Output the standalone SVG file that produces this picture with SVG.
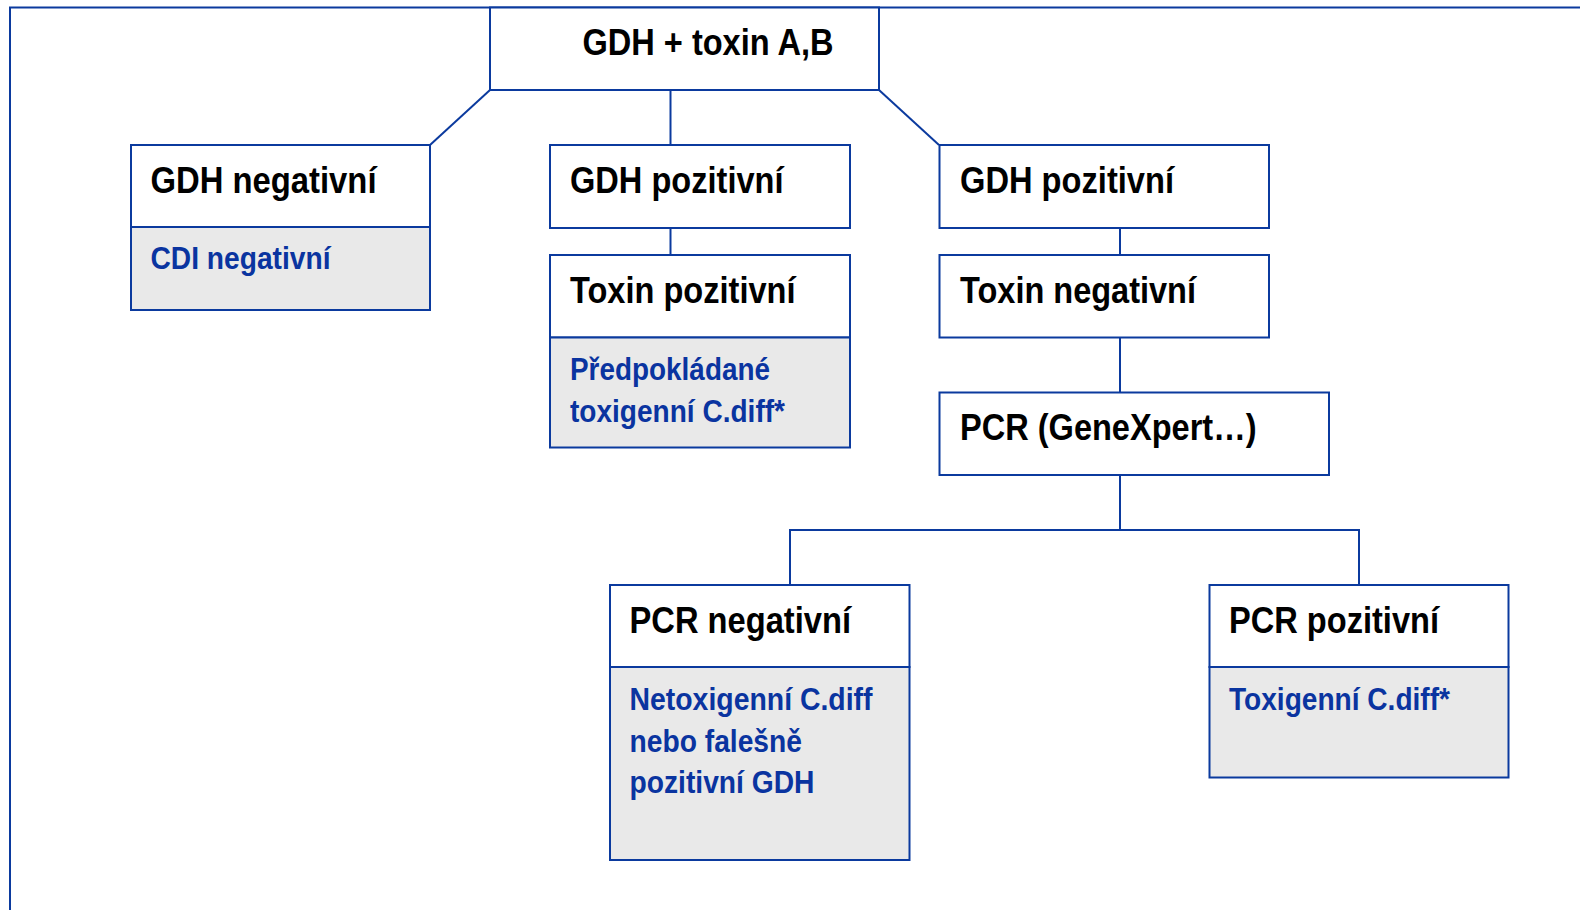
<svg xmlns="http://www.w3.org/2000/svg" width="1580" height="910" viewBox="0 0 1580 910">
<style>
.frame{fill:none;stroke:#0b3a9e;stroke-width:2}
.box{fill:#ffffff;stroke:#0b3a9e;stroke-width:2}
.body{fill:#e9e9e9;stroke:#0b3a9e;stroke-width:2}
.conn{fill:none;stroke:#0b3a9e;stroke-width:2}
.h{font-family:"Liberation Sans Narrow","Liberation Sans",Arial,sans-serif;font-weight:bold;font-size:37px;fill:#000}
.b{font-family:"Liberation Sans Narrow","Liberation Sans",Arial,sans-serif;font-weight:bold;font-size:31px;fill:#0a34a0}
</style>
<rect width="1580" height="910" fill="#ffffff"/>
<rect class="frame" x="10" y="7.5" width="1620" height="1000"/>
<g id="connectors">
<line class="conn" x1="490" y1="90" x2="430" y2="145"/>
<line class="conn" x1="670.5" y1="90" x2="670.5" y2="145"/>
<line class="conn" x1="879" y1="90" x2="939" y2="145"/>
<line class="conn" x1="670.5" y1="228" x2="670.5" y2="255"/>
<line class="conn" x1="1120" y1="228" x2="1120" y2="255"/>
<line class="conn" x1="1120" y1="337" x2="1120" y2="392"/>
<line class="conn" x1="1120" y1="475" x2="1120" y2="530"/>
<polyline class="conn" points="790,585 790,530 1359,530 1359,585"/>
</g>
<g id="top">
<rect class="box" x="490" y="7.5" width="389" height="82.5"/>
<text class="h" x="708" y="55" text-anchor="middle" textLength="251" lengthAdjust="spacingAndGlyphs">GDH + toxin A,B</text>
</g>
<g id="gdh-neg">
<rect class="box" x="131" y="145" width="299" height="82"/>
<rect class="body" x="131" y="227" width="299" height="83"/>
<text class="h" x="150.5" y="192.5" textLength="226" lengthAdjust="spacingAndGlyphs">GDH negativní</text>
<text class="b" x="150.5" y="269" textLength="180" lengthAdjust="spacingAndGlyphs">CDI negativní</text>
</g>
<g id="gdh-pos-1">
<rect class="box" x="550" y="145" width="300" height="83"/>
<text class="h" x="570" y="192.5" textLength="213.5" lengthAdjust="spacingAndGlyphs">GDH pozitivní</text>
</g>
<g id="toxin-pos">
<rect class="box" x="550" y="255" width="300" height="82.5"/>
<rect class="body" x="550" y="337.5" width="300" height="110"/>
<text class="h" x="570" y="303" textLength="225.5" lengthAdjust="spacingAndGlyphs">Toxin pozitivní</text>
<text class="b" x="570" y="380" textLength="200" lengthAdjust="spacingAndGlyphs">Předpokládané</text>
<text class="b" x="570" y="421.5" textLength="215" lengthAdjust="spacingAndGlyphs">toxigenní C.diff*</text>
</g>
<g id="gdh-pos-2">
<rect class="box" x="939.5" y="145" width="329.5" height="83"/>
<text class="h" x="960" y="192.5" textLength="214" lengthAdjust="spacingAndGlyphs">GDH pozitivní</text>
</g>
<g id="toxin-neg">
<rect class="box" x="939.5" y="255" width="329.5" height="82.5"/>
<text class="h" x="960" y="303" textLength="236" lengthAdjust="spacingAndGlyphs">Toxin negativní</text>
</g>
<g id="pcr">
<rect class="box" x="939.5" y="392.5" width="389.5" height="82.5"/>
<text class="h" x="960" y="440" textLength="296.5" lengthAdjust="spacingAndGlyphs">PCR (GeneXpert…)</text>
</g>
<g id="pcr-neg">
<rect class="box" x="610" y="585" width="299.5" height="82"/>
<rect class="body" x="610" y="667" width="299.5" height="193"/>
<text class="h" x="629.5" y="632.5" textLength="221.5" lengthAdjust="spacingAndGlyphs">PCR negativní</text>
<text class="b" x="629.5" y="710" textLength="243" lengthAdjust="spacingAndGlyphs">Netoxigenní C.diff</text>
<text class="b" x="629.5" y="752" textLength="172.5" lengthAdjust="spacingAndGlyphs">nebo falešně</text>
<text class="b" x="629.5" y="792.5" textLength="185" lengthAdjust="spacingAndGlyphs">pozitivní GDH</text>
</g>
<g id="pcr-pos">
<rect class="box" x="1209.5" y="585" width="299" height="82"/>
<rect class="body" x="1209.5" y="667" width="299" height="110.5"/>
<text class="h" x="1229" y="632.5" textLength="210" lengthAdjust="spacingAndGlyphs">PCR pozitivní</text>
<text class="b" x="1229" y="710" textLength="221" lengthAdjust="spacingAndGlyphs">Toxigenní C.diff*</text>
</g>
</svg>
